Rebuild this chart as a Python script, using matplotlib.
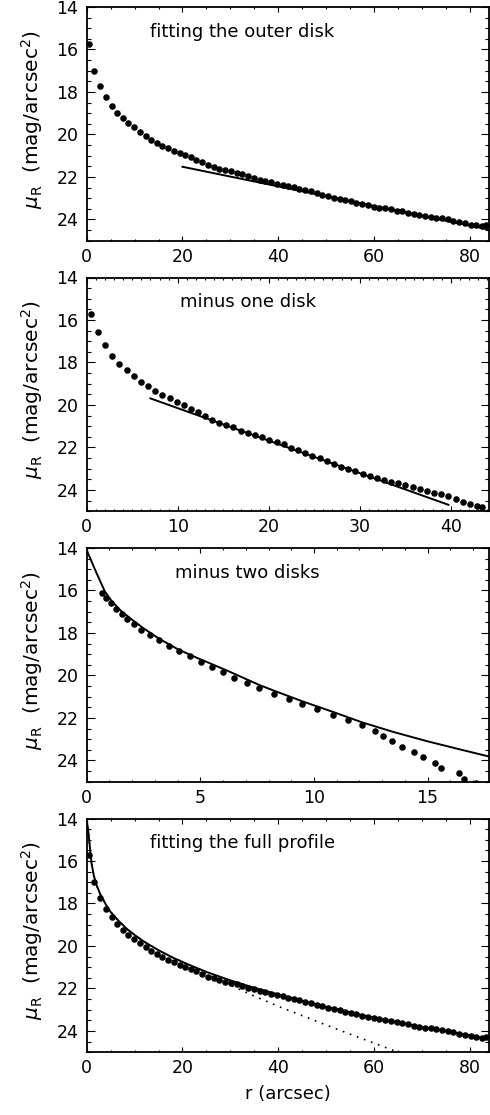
import numpy as np
import matplotlib
matplotlib.use("Agg")
import matplotlib.pyplot as plt
from matplotlib.ticker import MultipleLocator

plt.rcParams["font.family"] = "DejaVu Sans"
plt.rcParams["mathtext.fontset"] = "dejavusans"

# ---- data ----
# full observed profile (panels 1 and 4)
r_outer = [0.4, 1.6, 2.8, 4.0, 5.2, 6.4, 7.5, 8.7, 9.9, 11.1,
           12.3, 13.4, 14.6, 15.8, 17.0, 18.2, 19.4, 20.6, 21.7, 22.9,
           24.1, 25.3, 26.5, 27.7, 28.9, 30.1, 31.3, 32.5, 33.7, 34.9,
           36.1, 37.3, 38.5, 39.7, 40.9, 42.1, 43.3, 44.4, 45.6, 46.8,
           48.0, 49.2, 50.4, 51.6, 52.8, 54.0, 55.2, 56.3, 57.5, 58.7,
           59.9, 61.1, 62.3, 63.5, 64.7, 65.9, 67.1, 68.3, 69.4, 70.6,
           71.8, 73.0, 74.2, 75.4, 76.6, 77.8, 79.0, 80.2, 81.4, 82.5,
           83.3]
mu_outer = [15.72, 16.99, 17.73, 18.24, 18.65, 18.98, 19.23, 19.46, 19.67, 19.87,
            20.07, 20.24, 20.39, 20.52, 20.64, 20.77, 20.88, 20.98, 21.08, 21.18,
            21.30, 21.44, 21.53, 21.61, 21.68, 21.74, 21.81, 21.87, 21.97, 22.04,
            22.12, 22.18, 22.25, 22.31, 22.37, 22.43, 22.49, 22.56, 22.62, 22.68,
            22.76, 22.84, 22.90, 22.98, 23.03, 23.09, 23.15, 23.22, 23.28, 23.34,
            23.41, 23.44, 23.48, 23.53, 23.58, 23.62, 23.69, 23.75, 23.80, 23.84,
            23.88, 23.92, 23.95, 24.00, 24.07, 24.13, 24.17, 24.24, 24.28, 24.32,
            24.28]
outer_disk_r = [20.0, 85.0]
outer_disk_mu = [21.52, 24.52]

# profile minus the outer disk
r_one = [0.44, 1.24, 2.02, 2.83, 3.60, 4.40, 5.17, 5.97, 6.74, 7.55,
         8.32, 9.10, 9.90, 10.67, 11.44, 12.24, 13.01, 13.80, 14.54, 15.35,
         16.11, 16.92, 17.69, 18.49, 19.30, 20.07, 20.88, 21.65, 22.45, 23.22,
         24.03, 24.80, 25.60, 26.37, 27.17, 27.94, 28.75, 29.52, 30.32, 31.09,
         31.86, 32.67, 33.44, 34.24, 35.01, 35.82, 36.59, 37.39, 38.16, 38.97,
         39.74, 40.54, 41.31, 42.12, 42.89, 43.40]
mu_one = [15.72, 16.55, 17.19, 17.68, 18.06, 18.37, 18.65, 18.90, 19.12, 19.33,
          19.52, 19.69, 19.84, 20.02, 20.17, 20.35, 20.52, 20.71, 20.85, 20.94,
          21.05, 21.21, 21.32, 21.43, 21.52, 21.63, 21.74, 21.85, 22.01, 22.14,
          22.28, 22.39, 22.51, 22.64, 22.76, 22.90, 23.03, 23.12, 23.25, 23.34,
          23.44, 23.52, 23.61, 23.69, 23.77, 23.88, 23.97, 24.07, 24.13, 24.19,
          24.28, 24.41, 24.57, 24.66, 24.74, 24.79]
inner_disk_r = [7.0, 39.75]
inner_disk_mu = [19.69, 24.70]

# profile minus both disks
r_two = [0.66, 0.85, 1.07, 1.29, 1.54, 1.79, 2.08, 2.39, 2.78, 3.19,
         3.62, 4.06, 4.54, 5.03, 5.50, 6.01, 6.49, 7.04, 7.58, 8.24,
         8.90, 9.46, 10.15, 10.82, 11.51, 12.11, 12.68, 13.05, 13.42, 13.89,
         14.41, 14.78, 15.34, 15.59, 16.37, 16.61, 17.11]
mu_two = [16.10, 16.35, 16.60, 16.85, 17.10, 17.35, 17.60, 17.85, 18.10, 18.35,
          18.60, 18.85, 19.10, 19.35, 19.60, 19.85, 20.10, 20.35, 20.60, 20.85,
          21.10, 21.35, 21.60, 21.85, 22.10, 22.35, 22.60, 22.85, 23.10, 23.35,
          23.60, 23.85, 24.10, 24.35, 24.60, 24.85, 25.08]
bulge_r = [0.0, 0.4, 0.8, 1.1, 1.5, 2.0, 2.5, 3.2, 4.0, 4.7,
           6.2, 7.6, 8.25, 9.5, 10.85, 12.1, 13.5, 15.0, 16.5, 17.8]
bulge_mu = [14.10, 15.10, 16.05, 16.50, 16.95, 17.38, 17.78, 18.28, 18.76, 19.10,
            19.78, 20.45, 20.72, 21.22, 21.72, 22.20, 22.66, 23.10, 23.50, 23.84]

# full fit (solid) and inner components (dotted)
fit_r = [0.0, 0.3, 0.6, 1.0, 1.5, 2.0, 2.8, 4.0, 5.0, 6.5,
         8.5, 10.0, 12.0, 15.0, 18.0, 21.0, 25.0, 30.0, 35.0, 40.0,
         50.0, 60.0, 70.0, 80.0, 85.0]
fit_mu = [14.05, 14.55, 15.20, 16.10, 16.70, 17.10, 17.55, 18.05, 18.40, 18.78,
          19.22, 19.48, 19.80, 20.20, 20.55, 20.85, 21.22, 21.62, 21.97, 22.28,
          22.86, 23.38, 23.82, 24.20, 24.42]
inner_r = [0.0, 0.3, 0.6, 1.0, 1.5, 2.0, 2.8, 4.0, 5.0, 6.5,
           8.5, 10.0, 12.0, 15.0, 18.0, 21.0, 25.0, 30.0, 35.0, 40.0,
           45.0, 50.0, 55.0, 60.0, 65.0]
inner_mu = [14.05, 14.55, 15.20, 16.10, 16.70, 17.10, 17.55, 18.05, 18.40, 18.78,
            19.22, 19.48, 19.80, 20.20, 20.55, 20.87, 21.30, 21.85, 22.36, 22.84,
            23.28, 23.72, 24.15, 24.57, 25.00]

W, H = 490, 1115
fig = plt.figure(figsize=(W / 100, H / 100), dpi=100)
fig.patch.set_facecolor("white")

LEFT, RIGHT, AH = 86.7, 489.4, 233.7
tops = [7.0, 277.5, 548.0, 818.5]


def panel(i, xmax, xmaj, xmin, title, tx):
    ax = fig.add_axes([LEFT / W, 1 - (tops[i] + AH) / H, (RIGHT - LEFT) / W, AH / H])
    ax.set_xlim(0, xmax)
    ax.set_ylim(25, 14)
    ax.xaxis.set_major_locator(MultipleLocator(xmaj))
    ax.xaxis.set_minor_locator(MultipleLocator(xmin))
    ax.yaxis.set_major_locator(MultipleLocator(2))
    ax.yaxis.set_minor_locator(MultipleLocator(0.5))
    ax.tick_params(which="both", direction="in", top=True, right=True, width=0.8,
                   labelsize=12.5, colors="k")
    ax.tick_params(axis="x", which="major", length=3.4, pad=5)
    ax.tick_params(axis="x", which="minor", length=1.7)
    ax.tick_params(axis="y", which="major", length=5.8, pad=6)
    ax.tick_params(axis="y", which="minor", length=2.9)
    for s in ax.spines.values():
        s.set_linewidth(1.3)
    ax.yaxis.get_major_ticks()[0].label1.set_verticalalignment("top")
    ax.text(tx, 0.895, title, transform=ax.transAxes, fontsize=13, va="center", ha="left")
    ax.text(-0.135, 0.52, r"$\mu_{\mathrm{R}}$  (mag/arcsec$^2$)", transform=ax.transAxes,
            rotation=90, ha="center", va="center", fontsize=14.5)
    return ax


dot = dict(ls="none", marker="o", ms=3.7, color="k", mec="k")

ax1 = panel(0, 84.1, 20, 5, "fitting the outer disk", 0.157)
ax1.plot(r_outer, mu_outer, **dot)
ax1.plot(outer_disk_r, outer_disk_mu, color="k", lw=1.4)

ax2 = panel(1, 44.25, 10, 1, "minus one disk", 0.232)
ax2.plot(r_one, mu_one, **dot)
ax2.plot(inner_disk_r, inner_disk_mu, color="k", lw=1.4)

ax3 = panel(2, 17.72, 5, 1, "minus two disks", 0.22)
ax3.plot(r_two, mu_two, **dot)
ax3.plot(bulge_r, bulge_mu, color="k", lw=1.4)

ax4 = panel(3, 84.1, 20, 5, "fitting the full profile", 0.157)
ax4.plot(r_outer, mu_outer, **dot)
ax4.plot(fit_r, fit_mu, color="k", lw=1.4)
ax4.plot(inner_r, inner_mu, color="k", lw=1.2, ls=(0, (1, 3.5)))
ax4.set_xlabel("r (arcsec)", fontsize=13, labelpad=6)

fig.savefig("out.png", dpi=100, facecolor="white")
